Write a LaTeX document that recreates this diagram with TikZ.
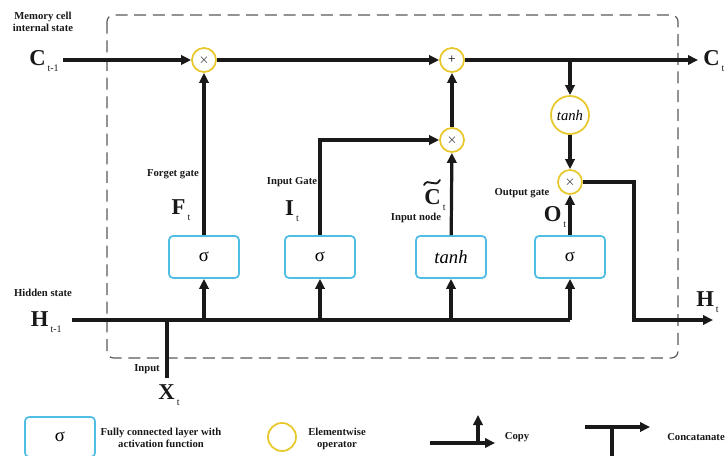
\documentclass[tikz,border=0pt]{standalone}
\usepackage{fontspec}
\setmainfont{Liberation Serif}
\usetikzlibrary{arrows.meta}
\definecolor{opyellow}{RGB}{232,200,40}
\definecolor{fccyan}{RGB}{80,190,228}
\definecolor{ink}{RGB}{25,25,25}
\newcommand{\biglab}[2]{{\fontsize{17}{17}\selectfont\bfseries #1}\hspace{1.5pt}\raisebox{-4pt}{\fontsize{7.5}{7.5}\selectfont #2}}
\begin{document}
\begin{tikzpicture}[x=0.75pt,y=-0.75pt,
  op/.style={circle,draw=opyellow,line width=1.3pt,fill=white,minimum size=18pt,inner sep=0pt,font=\fontsize{10}{10}\selectfont},
  fc/.style={draw=fccyan,line width=1.3pt,rounded corners=3pt,fill=white,minimum width=52.5pt,minimum height=31.5pt,inner sep=0pt,font=\fontsize{14}{14}\selectfont},
  flow/.style={draw=ink,line width=2.4pt,-{Triangle[length=7.5pt,width=7pt]}},
  wire/.style={draw=ink,line width=2.4pt},
  lab/.style={font=\fontsize{8}{9}\selectfont\bfseries,inner sep=0pt,align=center,text=ink},
  big/.style={inner sep=0pt,text=ink}]
\useasboundingbox (0,0) rectangle (725,456);
% dashed frame
\draw[gray!70!black,line width=0.9pt,dash pattern=on 9pt off 5pt,rounded corners=5pt] (107,15) rectangle (678,358);
% circles
\node[op] (m1) at (204,60) {$\times$};
\node[op] (add) at (452,60) {+};
\node[op] (m2) at (452,140) {$\times$};
\node[op,minimum size=28.5pt,font=\fontsize{11}{11}\selectfont\itshape] (th) at (570,115) {tanh};
\node[op] (m3) at (570,182) {$\times$};
% boxes
\node[fc] (b1) at (204,257) {σ};
\node[fc] (b2) at (320,257) {σ};
\node[fc,font=\fontsize{14}{14}\selectfont\itshape] (b3) at (451,257) {tanh};
\node[fc] (b4) at (570,257) {σ};
% coordinates
\coordinate (cin) at (63,60);
\coordinate (cout) at (698,60);
\coordinate (brc) at (570,60);
\coordinate (hin) at (72,320);
\coordinate (hend) at (570,320);
\coordinate (xj) at (167,320);
\coordinate (xin) at (167,378);
\coordinate (h1) at (204,320);
\coordinate (h2) at (320,320);
\coordinate (h3) at (451,320);
\coordinate (ig) at (320,140);
\coordinate (oc) at (634,182);
\coordinate (od) at (634,320);
\coordinate (hout) at (713,320);
% connectors
\draw[flow] (cin) -- (m1);
\draw[flow] (m1) -- (add);
\draw[flow] (add) -- (cout);
\draw[flow] (brc) -- (th);
\draw[flow] (th) -- (m3);
\draw[flow] (b1) -- (m1);
\draw[flow,line join=miter] (b2.north) -- (ig) -- (m2);
\draw[flow] (b3) -- (m2);
\draw[flow] (m2) -- (add);
\draw[flow] (b4) -- (m3);
\draw[wire] (hin) -- (hend);
\draw[wire] (xin) -- (xj);
\draw[flow] (h1) -- (b1);
\draw[flow] (h2) -- (b2);
\draw[flow] (h3) -- (b3);
\draw[flow] (hend) -- (b4);
\draw[flow,line join=miter] (m3) -- (oc) -- (od) -- (hout);
% labels
\node[lab] (lmem) at (43,22) {Memory cell\\internal state};
\node[big,anchor=east] (lcin) at (59,61) {\biglab{C}{t-1}};
\node[big,anchor=west] (lcout) at (703,61) {\biglab{C}{t}};
\node[lab] (lhid) at (43,293) {Hidden state};
\node[big,anchor=east] (lhin) at (62,322) {\biglab{H}{t-1}};
\node[big,anchor=west] (lhout) at (696,302) {\biglab{H}{t}};
\node[lab] (linp) at (147,369) {Input};
\node[big] (lx) at (169,395) {\biglab{X}{t}};
\node[lab] (lfg) at (173,174) {Forget gate};
\node[big] (lf) at (181,210) {\biglab{F}{t}};
\node[lab] (lig) at (292,182) {Input Gate};
\node[big] (li) at (292,211) {\biglab{I}{t}};
\node[big,anchor=base] (lct) at (435,205) {\biglab{C}{t}};
\draw[ink,line width=1.4pt,line cap=round] (424,185) .. controls (428,177) and (435,189) .. (440,180);
\node[lab] (linode) at (416,218) {Input node};
\node[lab] (log) at (522,193) {Output gate};
\node[big] (lo) at (555,217) {\biglab{O}{t}};
% legend
\node[fc,minimum height=30pt] (lgbox) at (60,437) {σ};
\node[lab] (lgfc) at (161,438) {Fully connected layer with\\activation function};
\node[op,minimum size=21pt] (lgop) at (282,437) {};
\node[lab] (lgop2) at (337,439) {Elementwise\\operator};
\coordinate (cp1) at (430,443);
\coordinate (cp2) at (495,443);
\coordinate (cp3) at (478,443);
\coordinate (cp4) at (478,415);
\draw[flow] (cp1) -- (cp2);
\draw[flow] (cp3) -- (cp4);
\node[lab] (lcopy) at (517,437) {Copy};
\coordinate (cc1) at (585,427);
\coordinate (cc2) at (650,427);
\coordinate (cc3) at (612,427);
\coordinate (cc4) at (612,456);
\draw[flow] (cc1) -- (cc2);
\draw[wire] (cc3) -- (cc4);
\node[lab,anchor=west] (lconc) at (667,437) {Concatanate};
\end{tikzpicture}
\end{document}
